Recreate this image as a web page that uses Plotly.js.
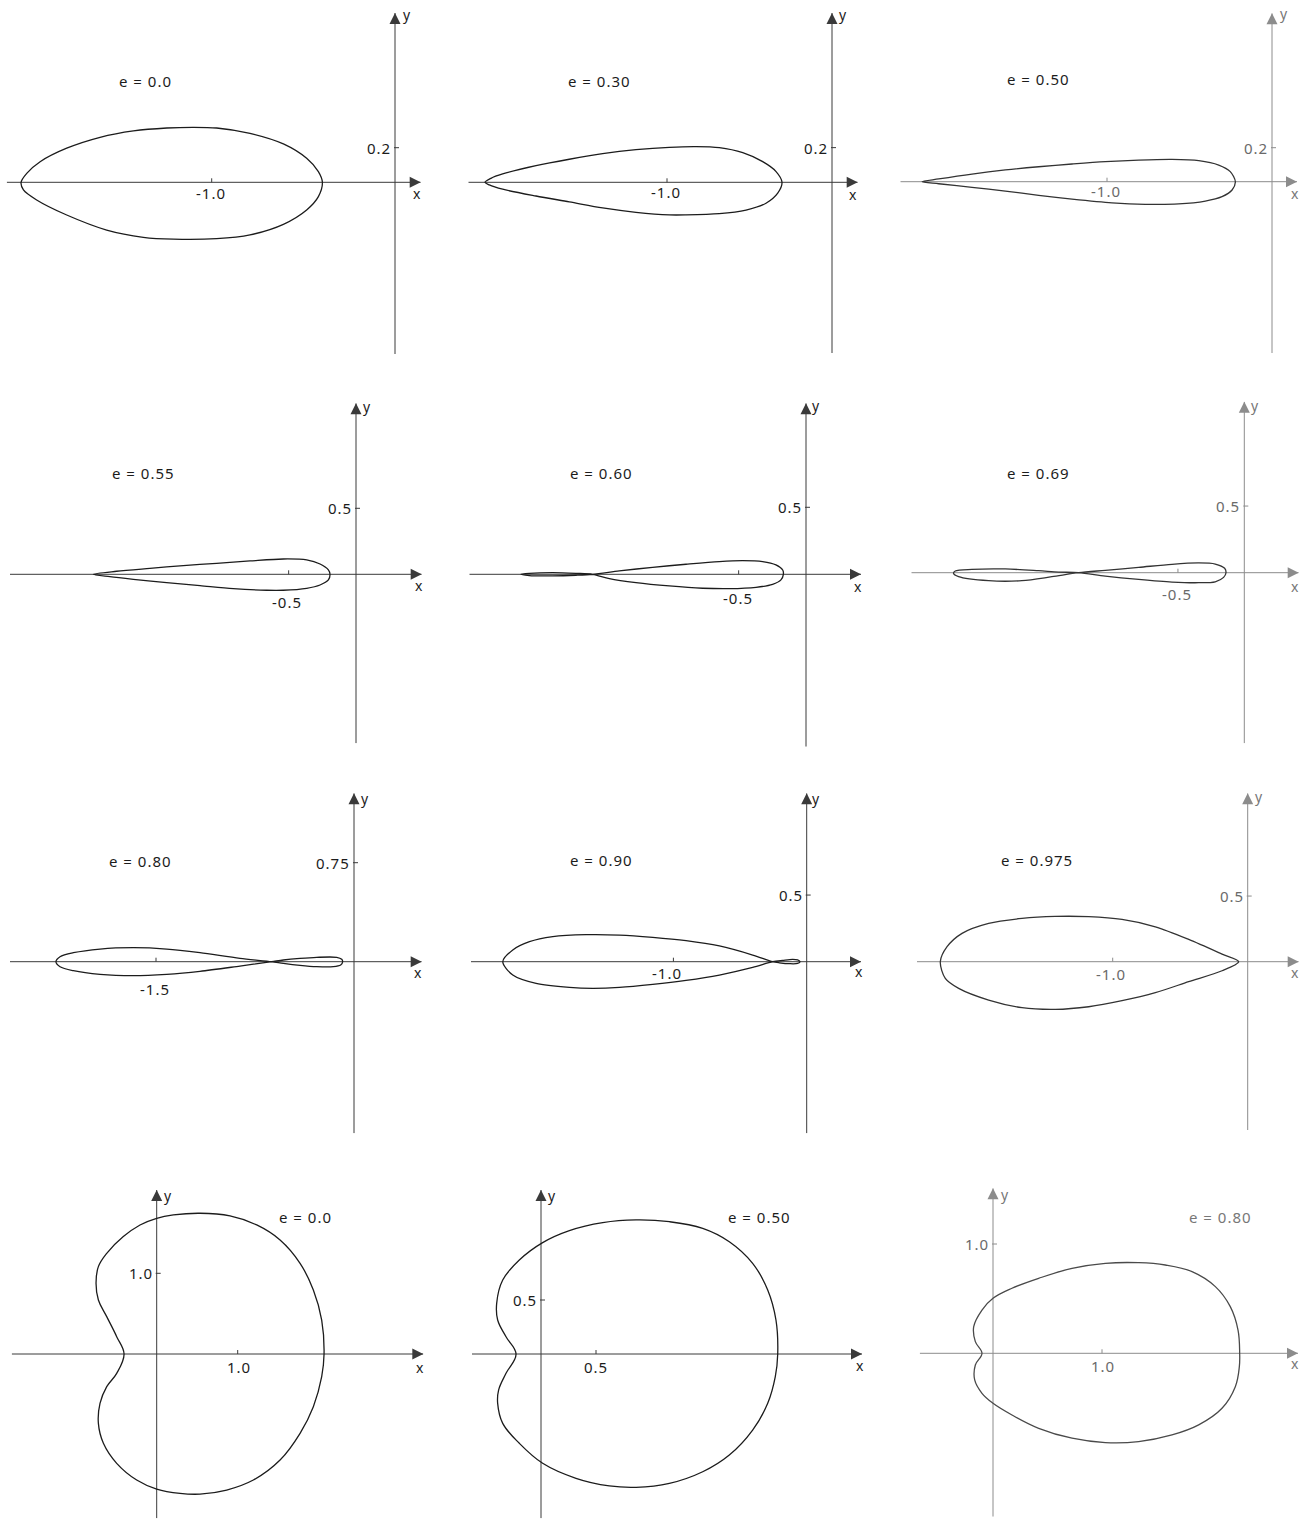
<!DOCTYPE html>
<html>
<head>
<meta charset="utf-8">
<script src="https://cdn.plot.ly/plotly-3.0.1.min.js"></script>
<style>
  html, body { margin: 0; padding: 0; background: #fff; }
  #chart { width: 1308px; height: 1520px; }
  .annotation-text { letter-spacing: 1px; }
</style>
</head>
<body>
<div id="chart"></div>
<script>
// ---- panel captions and axis ticks ----
const eLabels   = ['e = 0.0', 'e = 0.30', 'e = 0.50', 'e = 0.55', 'e = 0.60', 'e = 0.69',
                   'e = 0.80', 'e = 0.90', 'e = 0.975', 'e = 0.0', 'e = 0.50', 'e = 0.80'];
const xTickVals = [-1.0, -1.0, -1.0, -0.5, -0.5, -0.5, -1.5, -1.0, -1.0, 1.0, 0.5, 1.0];
const xTickText = ['-1.0', '-1.0', '-1.0', '-0.5', '-0.5', '-0.5', '-1.5', '-1.0', '-1.0', '1.0', '0.5', '1.0'];
const yTickVals = [0.2, 0.2, 0.2, 0.5, 0.5, 0.5, 0.75, 0.5, 0.5, 1.0, 0.5, 1.0];
const yTickText = ['0.2', '0.2', '0.2', '0.5', '0.5', '0.5', '0.75', '0.5', '0.5', '1.0', '0.5', '1.0'];

// ---- closed curves, one per panel ----
const curve1X = [-2.040,-2.009,-1.936,-1.791,-1.609,-1.427,-1.245,-1.100,-0.973,-0.791,-0.609,-0.482,-0.418,-0.396,-0.418,-0.482,-0.609,-0.791,-0.973,-1.209,-1.373,-1.573,-1.791,-1.955,-2.027,-2.040];
const curve1Y = [0,0.052,0.119,0.197,0.260,0.297,0.314,0.318,0.314,0.283,0.222,0.139,0.062,0,-0.083,-0.160,-0.243,-0.304,-0.326,-0.329,-0.318,-0.276,-0.189,-0.102,-0.044,0];

const curve2X = [-2.103,-2.067,-1.996,-1.794,-1.592,-1.390,-1.188,-0.986,-0.824,-0.683,-0.541,-0.420,-0.339,-0.303,-0.329,-0.400,-0.521,-0.683,-0.885,-0.986,-1.188,-1.390,-1.592,-1.794,-1.996,-2.077,-2.103];
const curve2Y = [0,0.023,0.048,0.096,0.133,0.165,0.188,0.202,0.206,0.200,0.171,0.119,0.062,0,-0.063,-0.121,-0.160,-0.181,-0.188,-0.188,-0.173,-0.148,-0.113,-0.079,-0.040,-0.015,0];

const curve3X = [-2.121,-2.020,-1.818,-1.616,-1.414,-1.212,-1.010,-0.808,-0.606,-0.444,-0.323,-0.253,-0.222,-0.242,-0.303,-0.404,-0.566,-0.768,-0.970,-1.212,-1.414,-1.616,-1.818,-2.020,-2.121];
const curve3Y = [0,0.016,0.045,0.069,0.088,0.104,0.118,0.127,0.131,0.124,0.098,0.059,0,-0.049,-0.088,-0.114,-0.131,-0.133,-0.124,-0.102,-0.080,-0.055,-0.033,-0.012,0];

const curve4X = [-1.950,-1.777,-1.530,-1.282,-1.035,-0.787,-0.540,-0.366,-0.267,-0.205,-0.193,-0.205,-0.267,-0.366,-0.540,-0.663,-0.911,-1.158,-1.406,-1.653,-1.827,-1.950];
const curve4Y = [0,0.023,0.045,0.066,0.083,0.101,0.116,0.109,0.078,0.033,0,-0.043,-0.081,-0.106,-0.121,-0.121,-0.109,-0.086,-0.063,-0.038,-0.018,0];

const curve5X = [-1.584,-1.386,-1.139,-0.891,-0.644,-0.470,-0.322,-0.223,-0.173,-0.168,-0.186,-0.248,-0.371,-0.569,-0.767,-1.015,-1.262,-1.460,-1.584,-1.708,-1.881,-2.054,-2.116,-2.054,-1.881,-1.708,-1.584];
const curve5Y = [0,0.025,0.052,0.075,0.095,0.102,0.095,0.070,0.032,0,-0.042,-0.075,-0.097,-0.107,-0.104,-0.087,-0.062,-0.032,0,0.007,0.012,0.007,0,-0.010,-0.012,-0.007,0];

const curve6X = [-1.249,-1.048,-0.796,-0.545,-0.344,-0.219,-0.148,-0.138,-0.156,-0.219,-0.344,-0.545,-0.796,-1.048,-1.249,-1.399,-1.550,-1.801,-2.053,-2.178,-2.191,-2.153,-1.927,-1.676,-1.450,-1.249];
const curve6Y = [0,0.018,0.040,0.063,0.073,0.065,0.033,0,-0.035,-0.068,-0.075,-0.070,-0.050,-0.025,0,0.005,0.015,0.028,0.025,0.013,-0.005,-0.030,-0.060,-0.060,-0.030,0];

const curve7X = [-0.624,-0.864,-1.167,-1.419,-1.672,-1.924,-2.126,-2.227,-2.258,-2.227,-2.126,-1.924,-1.672,-1.419,-1.167,-0.864,-0.624,-0.535,-0.409,-0.283,-0.131,-0.093,-0.086,-0.101,-0.157,-0.283,-0.409,-0.535,-0.624];
const curve7Y = [0,0.025,0.068,0.096,0.106,0.096,0.068,0.038,0,-0.038,-0.068,-0.096,-0.106,-0.096,-0.073,-0.033,0,0.013,0.025,0.033,0.033,0.018,0,-0.025,-0.038,-0.038,-0.028,-0.013,0];

const curve8X = [-0.255,-0.405,-0.655,-0.905,-1.155,-1.405,-1.655,-1.905,-2.080,-2.205,-2.280,-2.205,-2.030,-1.780,-1.605,-1.405,-1.155,-0.905,-0.655,-0.405,-0.255,-0.180,-0.105,-0.068,-0.050,-0.068,-0.130,-0.205,-0.255];
const curve8Y = [0,0.050,0.118,0.158,0.183,0.200,0.203,0.188,0.150,0.088,0,-0.100,-0.163,-0.193,-0.200,-0.193,-0.170,-0.140,-0.100,-0.043,0,0.010,0.018,0.013,0,-0.013,-0.015,-0.008,0];

const curve9X = [-0.067,-0.190,-0.437,-0.684,-0.931,-1.178,-1.425,-1.672,-1.919,-2.116,-2.227,-2.277,-2.240,-2.141,-1.919,-1.672,-1.425,-1.178,-0.931,-0.684,-0.437,-0.190,-0.067];
const curve9Y = [0,0.058,0.170,0.266,0.322,0.343,0.345,0.330,0.292,0.216,0.114,0,-0.127,-0.203,-0.292,-0.350,-0.363,-0.343,-0.297,-0.236,-0.152,-0.069,0];

const curve10X = [2.066,2.037,1.934,1.770,1.523,1.235,0.905,0.535,0.206,0,-0.206,-0.412,-0.617,-0.720,-0.749,-0.720,-0.617,-0.494,-0.403,-0.494,-0.617,-0.700,-0.720,-0.658,-0.494,-0.247,0,0.288,0.535,0.864,1.193,1.523,1.770,1.934,2.037,2.066];
const curve10Y = [0,0.421,0.793,1.124,1.413,1.599,1.711,1.744,1.723,1.682,1.599,1.455,1.248,1.083,0.876,0.669,0.463,0.215,0,-0.240,-0.405,-0.612,-0.860,-1.107,-1.355,-1.562,-1.674,-1.727,-1.736,-1.686,-1.562,-1.314,-0.983,-0.653,-0.281,0];

const curve11X = [2.152,2.136,2.061,1.924,1.712,1.470,1.167,0.864,0.561,0.258,0.015,-0.197,-0.348,-0.403,-0.394,-0.318,-0.227,-0.318,-0.385,-0.394,-0.348,-0.197,0.015,0.318,0.621,0.864,1.167,1.470,1.712,1.924,2.061,2.130,2.152];
const curve11Y = [0,0.315,0.593,0.840,1.040,1.164,1.225,1.241,1.216,1.142,1.031,0.870,0.685,0.469,0.315,0.160,0,-0.179,-0.333,-0.457,-0.642,-0.827,-1.012,-1.151,-1.222,-1.235,-1.198,-1.090,-0.935,-0.704,-0.457,-0.210,0];

const curve12X = [2.263,2.248,2.177,2.040,1.826,1.581,1.336,1.031,0.725,0.419,0.174,0,-0.101,-0.177,-0.162,-0.101,-0.162,-0.168,-0.101,0,0.174,0.419,0.725,1.031,1.336,1.642,1.887,2.101,2.223,2.260,2.263];
const curve12Y = [0,0.213,0.427,0.610,0.747,0.808,0.829,0.823,0.777,0.686,0.595,0.503,0.396,0.244,0.107,0,-0.107,-0.244,-0.366,-0.457,-0.564,-0.686,-0.777,-0.817,-0.808,-0.747,-0.655,-0.503,-0.305,-0.122,0];

const curvesX = [curve1X, curve2X, curve3X, curve4X, curve5X, curve6X, curve7X, curve8X, curve9X, curve10X, curve11X, curve12X];
const curvesY = [curve1Y, curve2Y, curve3Y, curve4Y, curve5Y, curve6Y, curve7Y, curve8Y, curve9Y, curve10Y, curve11Y, curve12Y];

// ---- page geometry (pixels) ----
const W = 1308, H = 1520;
// origin (ox, oy), pixels per unit (kx, ky), frame [left, right, top, bottom]
const frames = [
  { ox: 395,    oy: 182.3,  kx: 183.3, ky: 173,   box: [6.7, 420.7, 13, 354] },
  { ox: 832,    oy: 182.3,  kx: 165,   ky: 173.3, box: [468.3, 857.7, 13, 353] },
  { ox: 1272,   oy: 181.7,  kx: 165,   ky: 170,   box: [900.3, 1297, 13.3, 353] },
  { ox: 356,    oy: 574.3,  kx: 134.7, ky: 132,   box: [10, 421.7, 403.3, 743.3] },
  { ox: 806,    oy: 574.3,  kx: 134.7, ky: 134,   box: [469.3, 861, 403.3, 746.7] },
  { ox: 1244.3, oy: 572.7,  kx: 132.7, ky: 133.3, box: [911.3, 1298.7, 401.7, 743.3] },
  { ox: 354,    oy: 961.7,  kx: 132,   ky: 132,   box: [10, 421.7, 793.3, 1133.3] },
  { ox: 806.7,  oy: 961.7,  kx: 133.3, ky: 133.3, box: [471, 861, 793.3, 1133.3] },
  { ox: 1247.7, oy: 961.7,  kx: 135,   ky: 131.3, box: [917, 1298.7, 793.3, 1130] },
  { ox: 156.7,  oy: 1354,   kx: 81,    ky: 80.7,  box: [11.7, 423.3, 1190, 1518.3] },
  { ox: 541,    oy: 1354,   kx: 110,   ky: 108,   box: [472, 862, 1190, 1518.3] },
  { ox: 993,    oy: 1353.3, kx: 109,   ky: 109.3, box: [919.7, 1298, 1188.3, 1516.7] }
];
// caption centre, axis letter positions, x tick label offset [dx, dy below axis]
const textPos = [
  { e: [145, 81],      xl: [416.7, 193],   yl: [406.7, 15],    xt: [-1, 11] },
  { e: [599.3, 81],    xl: [852.7, 194],   yl: [843.3, 15],    xt: [-1, 10] },
  { e: [1038.7, 78.7], xl: [1295.3, 193],  yl: [1283.7, 13.3], xt: [-1, 9] },
  { e: [143.3, 473.3], xl: [419.3, 585],   yl: [366.7, 406.7], xt: [-2, 28] },
  { e: [601, 473.3],   xl: [857.7, 586],   yl: [816, 405],     xt: [-1, 24] },
  { e: [1038.7, 473.3],xl: [1295.3, 586.7],yl: [1255.3, 405],  xt: [-1, 21] },
  { e: [140, 861],     xl: [418.3, 972.7], yl: [365, 798.3],   xt: [-1, 27] },
  { e: [601, 860],     xl: [858.7, 971.7], yl: [816, 798.3],   xt: [-6, 11] },
  { e: [1037, 860],    xl: [1295.3, 972.7],yl: [1258.7, 796],  xt: [-2, 12] },
  { e: [305, 1216.7],  xl: [420, 1367.3],  yl: [168.3, 1195],  xt: [1, 13] },
  { e: [759.3, 1216.7],xl: [860, 1365],    yl: [552, 1195],    xt: [0, 13] },
  { e: [1220.3, 1216.7],xl: [1295.3, 1363.3], yl: [1005.3, 1194], xt: [1, 13] }
];

const FONT = '"Noto Sans", "DejaVu Sans", sans-serif';
const ink = '#1c1c1c';

const traces = [];
const layout = {
  width: W, height: H,
  margin: { l: 0, r: 0, t: 0, b: 0 },
  paper_bgcolor: '#ffffff', plot_bgcolor: 'rgba(0,0,0,0)',
  showlegend: false,
  shapes: [], annotations: []
};

frames.forEach((f, i) => {
  const n = i + 1;
  const xa = 'xaxis' + (n === 1 ? '' : n), ya = 'yaxis' + (n === 1 ? '' : n);
  const xr = 'x' + (n === 1 ? '' : n),      yr = 'y' + (n === 1 ? '' : n);
  const [l, r, t, b] = f.box;
  const xRange = [(l - f.ox) / f.kx, (r - f.ox) / f.kx];
  const yRange = [(f.oy - b) / f.ky, (f.oy - t) / f.ky];
  const faded = (i % 3 === 2);
  const bottomRow = (i >= 9);
  const axisCol = faded ? '#8c8c8c' : '#3a3a3a';
  const tickTextCol = faded ? '#6a6a6a' : ink;
  const letterCol = faded ? '#777777' : ink;
  const curveCol = (i === 11) ? '#4a4a4a' : (faded ? '#333333' : ink);

  layout[xa] = { domain: [l / W, r / W], range: xRange, visible: false, fixedrange: true, anchor: yr };
  layout[ya] = { domain: [1 - b / H, 1 - t / H], range: yRange, visible: false, fixedrange: true, anchor: xr };

  traces.push({
    x: curvesX[i], y: curvesY[i], xaxis: xr, yaxis: yr,
    type: 'scatter', mode: 'lines', hoverinfo: 'skip',
    line: { color: curveCol, width: 1.3, shape: 'spline', smoothing: bottomRow ? 1.1 : 0.85 }
  });

  // axis lines
  layout.shapes.push({ type: 'line', xref: xr, yref: yr, x0: xRange[0], x1: xRange[1], y0: 0, y1: 0,
                       line: { color: axisCol, width: 1 }, layer: 'below' });
  layout.shapes.push({ type: 'line', xref: xr, yref: yr, x0: 0, x1: 0, y0: yRange[0], y1: yRange[1],
                       line: { color: axisCol, width: 1 }, layer: 'below' });
  // tick marks
  layout.shapes.push({ type: 'line', xref: xr, yref: yr, x0: xTickVals[i], x1: xTickVals[i],
                       ysizemode: 'pixel', yanchor: 0, y0: 0, y1: 4, line: { color: axisCol, width: 1 } });
  layout.shapes.push({ type: 'line', xref: xr, yref: yr, y0: yTickVals[i], y1: yTickVals[i],
                       xsizemode: 'pixel', xanchor: 0, x0: -1, x1: 4, line: { color: axisCol, width: 1 } });

  // arrow heads
  layout.annotations.push({ xref: xr, yref: yr, x: xRange[1], y: 0, ax: -11, ay: 0, text: '',
                            showarrow: true, arrowhead: 2, arrowsize: 2.2, arrowwidth: 1,
                            arrowcolor: axisCol, standoff: 0 });
  layout.annotations.push({ xref: xr, yref: yr, x: 0, y: yRange[1], ax: 0, ay: 11, text: '',
                            showarrow: true, arrowhead: 2, arrowsize: 2.2, arrowwidth: 1,
                            arrowcolor: axisCol, standoff: 0 });

  // tick labels
  const tp = textPos[i];
  layout.annotations.push({ xref: xr, yref: yr, x: xTickVals[i], y: 0, text: xTickText[i],
                            showarrow: false, xanchor: 'center', yanchor: 'middle',
                            xshift: tp.xt[0], yshift: -tp.xt[1],
                            font: { family: FONT, size: 15, color: tickTextCol } });
  layout.annotations.push({ xref: xr, yref: yr, x: 0, y: yTickVals[i], text: yTickText[i],
                            showarrow: false, xanchor: 'right', yanchor: 'middle', xshift: -2,
                            font: { family: FONT, size: 15, color: tickTextCol } });

  // caption and axis letters
  const eCol = (i === 11) ? '#777777' : ink;
  layout.annotations.push({ xref: 'paper', yref: 'paper', x: tp.e[0] / W, y: 1 - tp.e[1] / H,
                            text: eLabels[i], showarrow: false, xanchor: 'center', yanchor: 'middle',
                            font: { family: FONT, size: 15, color: eCol } });
  layout.annotations.push({ xref: 'paper', yref: 'paper', x: tp.xl[0] / W, y: 1 - tp.xl[1] / H,
                            text: 'x', showarrow: false, xanchor: 'center', yanchor: 'middle',
                            font: { family: FONT, size: 14, color: letterCol } });
  layout.annotations.push({ xref: 'paper', yref: 'paper', x: tp.yl[0] / W, y: 1 - tp.yl[1] / H,
                            text: 'y', showarrow: false, xanchor: 'center', yanchor: 'middle',
                            font: { family: FONT, size: 14, color: letterCol } });
});

Plotly.newPlot('chart', traces, layout, { displayModeBar: false, staticPlot: true });
</script>
</body>
</html>
